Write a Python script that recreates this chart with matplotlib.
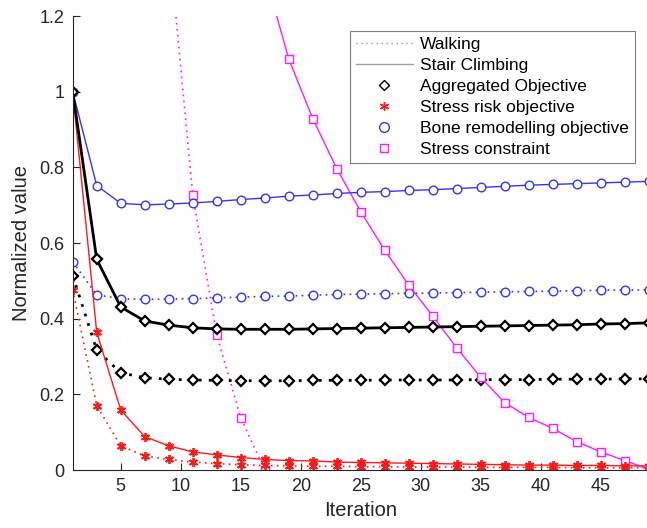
import numpy as np
import matplotlib
matplotlib.use("Agg")
import matplotlib.pyplot as plt
from matplotlib.lines import Line2D

plt.rcParams['font.family'] = ['Liberation Sans', 'DejaVu Sans']

# Iterations (every other one is plotted)
iterations = list(range(1, 50, 2))

# Aggregated objective
agg_stair = [1.000, 0.557, 0.431, 0.394, 0.383, 0.376, 0.373, 0.372, 0.372, 0.372, 0.373, 0.374, 0.375,
             0.376, 0.377, 0.378, 0.379, 0.380, 0.381, 0.382, 0.383, 0.384, 0.386, 0.387, 0.389]
agg_walk = [0.514, 0.317, 0.257, 0.244, 0.240, 0.238, 0.237, 0.236, 0.236, 0.236, 0.237, 0.237, 0.237,
            0.238, 0.238, 0.238, 0.238, 0.239, 0.239, 0.239, 0.240, 0.240, 0.240, 0.241, 0.241]

# Bone remodelling objective
bone_stair = [1.000, 0.752, 0.705, 0.701, 0.703, 0.706, 0.710, 0.715, 0.719, 0.724, 0.727, 0.731, 0.734,
              0.736, 0.739, 0.741, 0.744, 0.747, 0.750, 0.753, 0.755, 0.757, 0.759, 0.761, 0.763]
bone_walk = [0.550, 0.463, 0.453, 0.451, 0.452, 0.453, 0.455, 0.457, 0.459, 0.460, 0.462, 0.464, 0.465,
             0.466, 0.467, 0.468, 0.469, 0.470, 0.471, 0.472, 0.473, 0.474, 0.475, 0.476, 0.476]

# Stress risk objective
risk_stair = [1.000, 0.364, 0.159, 0.088, 0.064, 0.048, 0.040, 0.033, 0.028, 0.025, 0.024, 0.021, 0.020,
              0.019, 0.018, 0.017, 0.016, 0.015, 0.014, 0.013, 0.013, 0.012, 0.012, 0.011, 0.011]
risk_walk = [0.477, 0.170, 0.064, 0.037, 0.028, 0.021, 0.017, 0.014, 0.012, 0.011, 0.010, 0.010, 0.009,
             0.009, 0.008, 0.008, 0.008, 0.007, 0.007, 0.007, 0.007, 0.006, 0.006, 0.006, 0.006]

# Stress constraint (only the visible part of each curve)
constr_stair_iter = list(range(17, 50, 2))
constr_stair = [1.313, 1.087, 0.929, 0.797, 0.683, 0.581, 0.489, 0.407, 0.323,
                0.245, 0.178, 0.139, 0.110, 0.075, 0.048, 0.025, 0.002]
constr_walk_iter = [9, 11, 13, 15, 17]
constr_walk = [1.403, 0.727, 0.357, 0.138, 0.0]

blue = '#3535f5'
red = '#ff1a1a'
magenta = '#ff1aff'
axcol = '#262626'
dot = (0, (1, 2.6))

fig = plt.figure(figsize=(6.47, 5.28), dpi=100)
ax = fig.add_axes([0.1124, 0.1098, 0.8903, 0.8598])

# walking (dotted)
ax.plot(constr_walk_iter, constr_walk, linestyle=dot, color=magenta, lw=1.2,
        marker='s', ms=6, mfc='white', mec=magenta, mew=1.0)
ax.plot(iterations, bone_walk, linestyle=dot, color=blue, lw=1.2,
        marker='o', ms=6.2, mfc='white', mec=blue, mew=1.0)
ax.plot(iterations, agg_walk, linestyle=dot, color='black', lw=2.0,
        marker='D', ms=5.5, mfc='white', mec='black', mew=1.6)
ax.plot(iterations, risk_walk, linestyle=dot, color=red, lw=1.2,
        marker=(6, 2, 0), ms=6.5, mec=red, mew=1.3)

# stair climbing (solid)
ax.plot(constr_stair_iter, constr_stair, '-', color=magenta, lw=1.0,
        marker='s', ms=6, mfc='white', mec=magenta, mew=1.0)
ax.plot(iterations, bone_stair, '-', color=blue, lw=1.0,
        marker='o', ms=6.2, mfc='white', mec=blue, mew=1.0)
ax.plot(iterations, risk_stair, '-', color=red, lw=1.0,
        marker=(6, 2, 0), ms=6.5, mec=red, mew=1.3)
ax.plot(iterations, agg_stair, '-', color='black', lw=2.0,
        marker='D', ms=5.5, mfc='white', mec='black', mew=1.6)

ax.set_xlim(1, 49)
ax.set_ylim(0, 1.2)
ax.set_xticks([5, 10, 15, 20, 25, 30, 35, 40, 45])
ax.set_yticks([0, 0.2, 0.4, 0.6, 0.8, 1.0, 1.2])
ax.set_yticklabels(['0', '0.2', '0.4', '0.6', '0.8', '1', '1.2'])
ax.tick_params(direction='in', length=5, width=0.8, colors=axcol, labelsize=13, pad=6)
for side in ['top', 'right']:
    ax.spines[side].set_visible(False)
for side in ['left', 'bottom']:
    ax.spines[side].set_color(axcol)
    ax.spines[side].set_linewidth(0.8)

ax.set_xlabel('Iteration', fontsize=14.5, color=axcol, labelpad=4)
ax.set_ylabel('Normalized value', fontsize=14.5, color=axcol, labelpad=6)

handles = [
    Line2D([], [], linestyle=dot, color='#a0a0a0', lw=1.0),
    Line2D([], [], linestyle='-', color='#a0a0a0', lw=1.0),
    Line2D([], [], linestyle='none', marker='D', ms=5.5, mfc='white', mec='black', mew=1.0),
    Line2D([], [], linestyle='none', marker=(6, 2, 0), ms=6.5, mec=red, mew=1.0),
    Line2D([], [], linestyle='none', marker='o', ms=7, mfc='white', mec=blue, mew=1.0),
    Line2D([], [], linestyle='none', marker='s', ms=6, mfc='white', mec=magenta, mew=1.0),
]
labels = ['Walking', 'Stair Climbing', 'Aggregated Objective', 'Stress risk objective',
          'Bone remodelling objective', 'Stress constraint']
leg = ax.legend(handles, labels, loc='upper right', bbox_to_anchor=(0.976, 0.967),
                borderaxespad=0, fontsize=12.5, handlelength=3.3, handletextpad=0.4,
                labelspacing=0.33, borderpad=0.35, fancybox=False, framealpha=1)
leg.get_frame().set_edgecolor('#808080')
leg.get_frame().set_linewidth(0.8)

fig.savefig('out.png', dpi=100)
